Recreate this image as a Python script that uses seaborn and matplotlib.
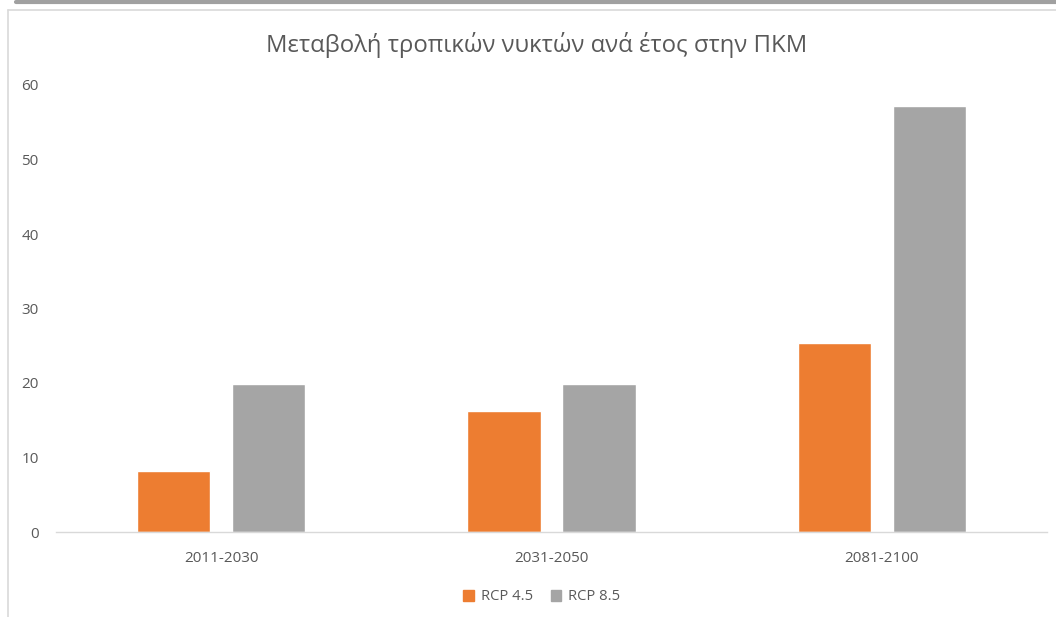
import matplotlib
matplotlib.use("Agg")
import matplotlib.pyplot as plt
import seaborn as sns
import pandas as pd
from matplotlib.patches import Rectangle
from matplotlib.lines import Line2D

periods = ["2011-2030", "2031-2050", "2081-2100"]
series_names = ["RCP 4.5", "RCP 8.5"]
rcp45 = [8.2, 16.2, 25.4]
rcp85 = [19.9, 19.9, 57.2]
y_ticks = [0, 10, 20, 30, 40, 50, 60]
title = "Μεταβολή τροπικών νυκτών ανά έτος στην ΠΚΜ"

df = pd.DataFrame({
    "period": periods * 2,
    "scenario": [series_names[0]] * 3 + [series_names[1]] * 3,
    "value": rcp45 + rcp85,
})

sns.set_theme(style="white")
plt.rcParams["font.family"] = ["Open Sans", "DejaVu Sans"]

W, H = 1056, 617
fig = plt.figure(figsize=(W / 100, H / 100), dpi=100)
fig.patch.set_facecolor("white")

ax = fig.add_axes([56 / W, (H - 532) / H, (1047 - 56) / W, (532 - 85) / H])
palette = {series_names[0]: "#ED7D31", series_names[1]: "#A5A5A5"}
sns.barplot(data=df, x="period", y="value", hue="scenario", palette=palette,
            width=0.576, gap=0.23, saturation=1, ax=ax, legend=False)

ax.set_xlim(-0.5, 2.5)
ax.set_ylim(0, 60)
ax.set_yticks(y_ticks)
ax.set_yticklabels([str(t) for t in y_ticks])
ax.set_xlabel("")
ax.set_ylabel("")
for s in ["top", "right", "left"]:
    ax.spines[s].set_visible(False)
ax.spines["bottom"].set_color("#D9D9D9")
ax.spines["bottom"].set_linewidth(1.0)
ax.tick_params(axis="y", length=0, pad=12.5, labelsize=11, labelcolor="#595959")
ax.tick_params(axis="x", length=0, pad=14, labelsize=11, labelcolor="#595959")

fig.text(537 / W, 1 - 45 / H, title, ha="center", va="center",
         fontsize=17.2, color="#595959")

handles = [Rectangle((0, 0), 1, 1, color=palette[n]) for n in series_names]
leg = fig.legend(handles, series_names, loc="center", bbox_to_anchor=(542 / W, 1 - 597 / H),
                 ncol=2, frameon=False, fontsize=10.6, handlelength=0.7, handleheight=0.7,
                 columnspacing=1.2, handletextpad=0.5)
for t in leg.get_texts():
    t.set_color("#595959")

# chart frame (partially visible in the screenshot)
fig.add_artist(Line2D([8 / W, 8 / W], [0, 1 - 10 / H], transform=fig.transFigure,
                      color="#D9D9D9", lw=1.2))
fig.add_artist(Line2D([8 / W, 1], [1 - 10 / H, 1 - 10 / H], transform=fig.transFigure,
                      color="#D9D9D9", lw=1.2))
fig.add_artist(Line2D([16 / W, 1], [1 - 1.5 / H, 1 - 1.5 / H], transform=fig.transFigure,
                      color="#A0A0A0", lw=3))

fig.savefig("out.png", dpi=100, facecolor="white")
